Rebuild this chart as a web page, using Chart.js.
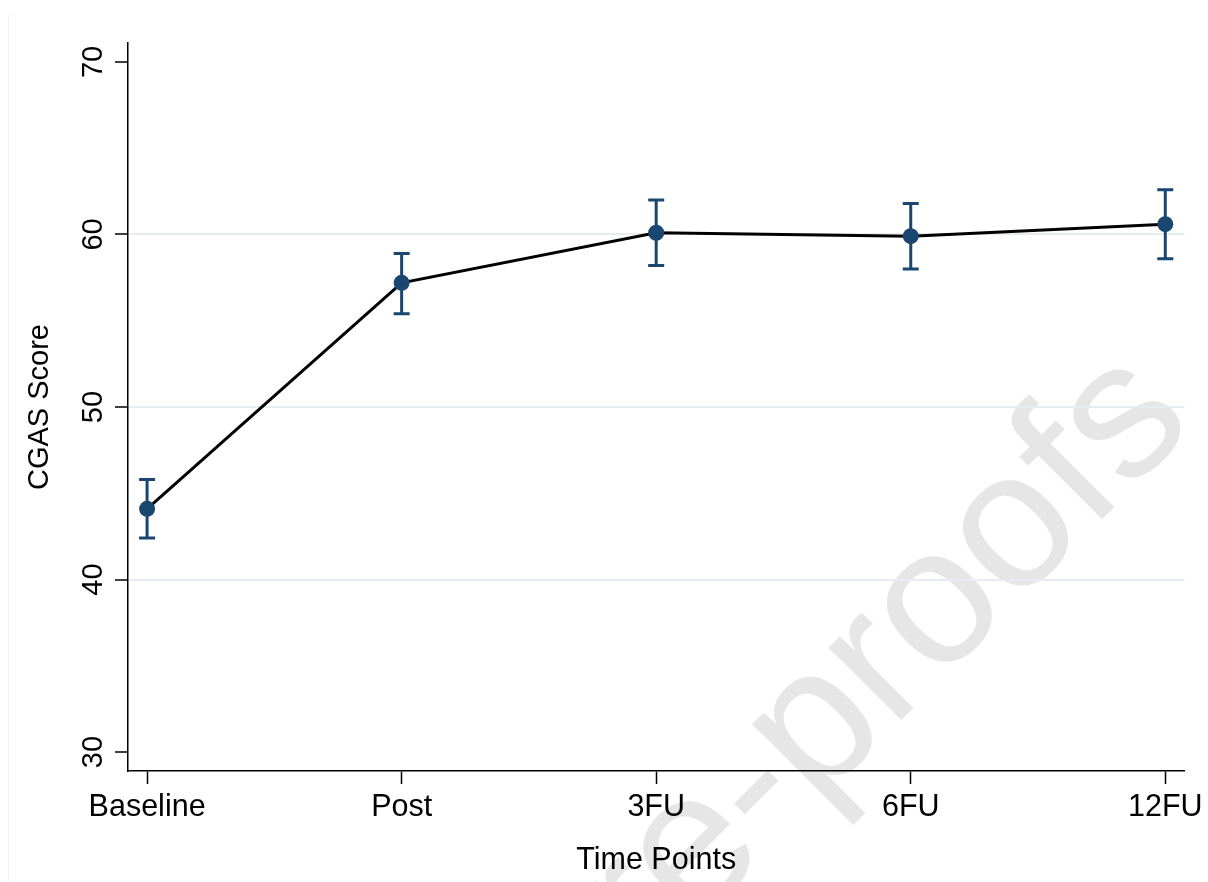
<!DOCTYPE html>
<html>
<head>
<meta charset="utf-8">
<script src="https://cdn.jsdelivr.net/npm/chart.js@4.4.1/dist/chart.umd.min.js"></script>
<style>
  html,body{margin:0;padding:0;background:#fff;}
  #wrap{width:1208px;height:882px;position:relative;}
</style>
</head>
<body>
<div id="wrap"><canvas id="chart" width="1208" height="882"></canvas></div>
<script>
// data
const timePoints = ["Baseline", "Post", "3FU", "6FU", "12FU"];
const meanScore  = [44.1, 57.2, 60.1, 59.9, 60.6];
const upperCI    = [45.8, 58.9, 62.0, 61.8, 62.6];
const lowerCI    = [42.4, 55.4, 58.2, 58.0, 58.6];
const yTicks     = [30, 40, 50, 60, 70];
const yGrid      = [40, 50, 60];

const NAVY = "#1a476f";
const FONT = '"Liberation Sans", Arial, sans-serif';

// page background, faint outer frame and the diagonal watermark
const backdrop = {
  id: "backdrop",
  beforeDraw(c) {
    const ctx = c.ctx;
    ctx.save();
    ctx.fillStyle = "#fff";
    ctx.fillRect(0, 0, c.width, c.height);
    ctx.strokeStyle = "#f3f3f3"; ctx.lineWidth = 1;
    ctx.beginPath(); ctx.moveTo(8.5, 13); ctx.lineTo(8.5, c.height); ctx.stroke();
    ctx.font = "194px " + FONT;
    ctx.fillStyle = "#e6e6e6";
    const pre = ctx.measureText("Journal Pre-pr").width, o = ctx.measureText("o").width;
    ctx.translate(940, 610); ctx.rotate(-Math.PI / 4);
    ctx.textBaseline = "alphabetic";
    ctx.fillText("Journal Pre-proofs", -pre - o / 2, 0.26 * 194);
    ctx.restore();
  }
};

// capped error bars, placed through the chart's own scales
const errorBars = {
  id: "errorBars",
  beforeDatasetsDraw(c) {
    const {ctx, scales: {x, y}} = c;
    ctx.save();
    ctx.strokeStyle = NAVY; ctx.lineWidth = 3;
    timePoints.forEach((_, i) => {
      const px = x.getPixelForValue(i), t = y.getPixelForValue(upperCI[i]), b = y.getPixelForValue(lowerCI[i]);
      ctx.beginPath();
      ctx.moveTo(px, t); ctx.lineTo(px, b);
      ctx.moveTo(px - 8, t); ctx.lineTo(px + 8, t);
      ctx.moveTo(px - 8, b); ctx.lineTo(px + 8, b);
      ctx.stroke();
    });
    ctx.restore();
  }
};

new Chart(document.getElementById("chart"), {
  type: "line",
  data: {
    datasets: [{
      data: meanScore.map((v, i) => ({x: i, y: v})),
      borderColor: "#000", borderWidth: 3,
      pointRadius: 8, pointHoverRadius: 8,
      pointBackgroundColor: NAVY, pointBorderWidth: 0,
      tension: 0
    }]
  },
  options: {
    responsive: false, animation: false,
    layout: {padding: {top: 43, right: 23, bottom: 0, left: 0}},
    plugins: {legend: {display: false}, tooltip: {enabled: false}},
    scales: {
      x: {
        type: "linear", min: -0.075, max: 4.075,
        afterBuildTicks: s => { s.ticks = timePoints.map((_, i) => ({value: i})); },
        afterFit: s => { s.height = 111; },
        ticks: {callback: v => timePoints[v] ?? "", color: "#000", padding: 5,
                font: {family: FONT, size: 30.5}, maxRotation: 0, autoSkip: false},
        grid: {drawOnChartArea: false, tickLength: 13, tickWidth: 1.5, tickColor: "#000"},
        border: {color: "#000", width: 1.5},
        title: {display: true, text: "Time Points", color: "#000",
                font: {family: FONT, size: 30.5}, padding: {top: 0, bottom: 3}}
      },
      y: {
        min: 28.9, max: 71.1,
        afterBuildTicks: s => { s.ticks = yTicks.map(v => ({value: v})); },
        afterFit: s => { s.width = 128; },
        ticks: {color: "#000", padding: 5, minRotation: 90, maxRotation: 90, crossAlign: "center",
                font: {family: FONT, size: 29}},
        grid: {
          color: ctx => yGrid.includes(ctx.tick && ctx.tick.value) ? "#e4edef" : "rgba(0,0,0,0)",
          lineWidth: 2, tickLength: 13, tickWidth: 1.5, tickColor: "#000"
        },
        border: {color: "#000", width: 1.5},
        title: {display: true, text: "CGAS Score", color: "#000",
                font: {family: FONT, size: 29}, padding: {top: 23, bottom: 0}}
      }
    }
  },
  plugins: [backdrop, errorBars]
});
</script>
</body>
</html>
